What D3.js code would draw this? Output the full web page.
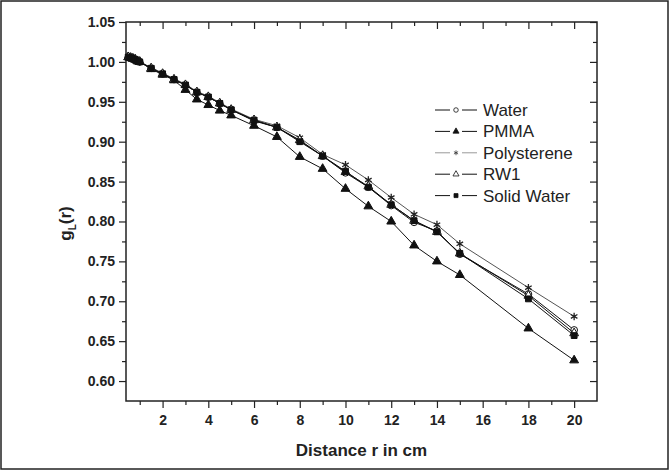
<!DOCTYPE html>
<html lang="en">
<head>
<meta charset="utf-8">
<title>Radial dose function</title>
<style type="text/css">
body {
  margin: 0;
  background: white;
}
text {
  font-family: "Liberation Sans", Arial, sans-serif;
}
.tick text {
  font: bold 14px "Liberation Sans", Arial, sans-serif;
  fill: #222;
}
.tick line {
  stroke: #222;
  stroke-width: 1.2px;
}
.series path.line {
  fill: none;
  stroke-width: 1px;
}
.legend text {
  font-size: 17px;
  fill: #222;
}
</style>
</head>
<body>
<svg width="669" height="470"></svg>
<script src="https://d3js.org/d3.v7.min.js"></script>
<script>
// distance r (cm)
var distances = [0.5, 0.6, 0.7, 0.8, 0.9, 1, 1.5, 2, 2.5, 3, 3.5, 4, 4.5, 5, 6, 7, 8, 9, 10, 11, 12, 13, 14, 15, 18, 20];

var waterVals       = [1.006, 1.005, 1.004, 1.003, 1.001, 1.000, 0.992, 0.985, 0.978, 0.971, 0.962, 0.956, 0.948, 0.940, 0.926, 0.918, 0.901, 0.882, 0.861, 0.843, 0.820, 0.799, 0.788, 0.759, 0.709, 0.664];
var pmmaVals        = [1.006, 1.005, 1.004, 1.003, 1.001, 1.000, 0.991, 0.984, 0.977, 0.965, 0.953, 0.946, 0.939, 0.933, 0.920, 0.906, 0.881, 0.866, 0.841, 0.819, 0.800, 0.770, 0.750, 0.733, 0.666, 0.626];
var polystyreneVals = [1.007, 1.006, 1.005, 1.003, 1.002, 1.000, 0.993, 0.986, 0.979, 0.972, 0.963, 0.957, 0.949, 0.941, 0.928, 0.920, 0.905, 0.884, 0.871, 0.852, 0.830, 0.809, 0.796, 0.772, 0.717, 0.681];
var rw1Vals         = [1.006, 1.005, 1.004, 1.003, 1.001, 1.000, 0.992, 0.985, 0.978, 0.971, 0.962, 0.956, 0.948, 0.940, 0.927, 0.918, 0.902, 0.882, 0.862, 0.844, 0.821, 0.801, 0.787, 0.760, 0.707, 0.660];
var solidWaterVals  = [1.006, 1.005, 1.004, 1.003, 1.001, 1.000, 0.992, 0.985, 0.978, 0.971, 0.962, 0.956, 0.948, 0.940, 0.927, 0.918, 0.900, 0.882, 0.863, 0.843, 0.821, 0.801, 0.787, 0.760, 0.703, 0.657];

var seriesNames = ["Water", "PMMA", "Polysterene", "RW1", "Solid Water"];

var xMajorTicks = [2, 4, 6, 8, 10, 12, 14, 16, 18, 20];
var xMinorTicks = [1, 3, 5, 7, 9, 11, 13, 15, 17, 19];
var yMajorTicks = [0.60, 0.65, 0.70, 0.75, 0.80, 0.85, 0.90, 0.95, 1.00, 1.05];
var yMinorTicks = [0.625, 0.675, 0.725, 0.775, 0.825, 0.875, 0.925, 0.975, 1.025];

var svg = d3.select("svg"),
    plotLeft = 126, plotRight = 597, plotTop = 22, plotBottom = 401;

var x = d3.scaleLinear().domain([0.4, 21]).range([plotLeft, plotRight]),
    y = d3.scaleLinear().domain([0.575, 1.05]).range([plotBottom, plotTop]);

// outer border of the figure
svg.append("rect")
    .attr("x", 1).attr("y", 1).attr("width", 667).attr("height", 468)
    .attr("fill", "white").attr("stroke", "#222").attr("stroke-width", 1.5);

// axes (ticks only, the frame is a rect)
function addAxis(axis, tx, ty) {
  var g = svg.append("g").attr("transform", "translate(" + tx + "," + ty + ")").call(axis);
  g.select(".domain").remove();
  return g;
}

addAxis(d3.axisBottom(x).tickValues(xMajorTicks).tickSize(7).tickPadding(7).tickFormat(d3.format("d")), 0, plotBottom);
addAxis(d3.axisBottom(x).tickValues(xMinorTicks).tickSize(4).tickFormat(""), 0, plotBottom);
addAxis(d3.axisBottom(x).tickValues(xMajorTicks).tickSize(7).tickFormat(""), 0, plotTop);
addAxis(d3.axisBottom(x).tickValues(xMinorTicks).tickSize(4).tickFormat(""), 0, plotTop);

addAxis(d3.axisLeft(y).tickValues(yMajorTicks).tickSize(7).tickPadding(4).tickFormat(d3.format(".2f")), plotLeft, 0);
addAxis(d3.axisLeft(y).tickValues(yMinorTicks).tickSize(4).tickFormat(""), plotLeft, 0);
addAxis(d3.axisLeft(y).tickValues(yMajorTicks).tickSize(7).tickFormat(""), plotRight, 0);
addAxis(d3.axisLeft(y).tickValues(yMinorTicks).tickSize(4).tickFormat(""), plotRight, 0);

svg.append("rect")
    .attr("x", plotLeft).attr("y", plotTop).attr("width", plotRight - plotLeft).attr("height", plotBottom - plotTop)
    .attr("fill", "none").attr("stroke", "#222").attr("stroke-width", 1.5);

// axis titles
svg.append("text")
    .attr("x", (plotLeft + plotRight) / 2).attr("y", 456)
    .attr("text-anchor", "middle")
    .style("font-weight", "bold").style("font-size", "17px").style("fill", "#222")
    .text("Distance r in cm");

var ylab = svg.append("text")
    .attr("transform", "translate(71," + ((plotTop + plotBottom) / 2 + 12) + ") rotate(-90)")
    .attr("text-anchor", "middle")
    .style("font-weight", "bold").style("font-size", "17px").style("fill", "#222");
ylab.append("tspan").text("g");
ylab.append("tspan").attr("dy", 5).style("font-size", "10px").text("L");
ylab.append("tspan").attr("dy", -5).text("(r)");

// series
var series = [
  {name: seriesNames[0], values: waterVals,       color: "#111", legendColor: "#111", symbol: d3.symbolCircle,   fill: "white", size: 36},
  {name: seriesNames[1], values: pmmaVals,        color: "#111", legendColor: "#111", symbol: d3.symbolTriangle, fill: "#111",  size: 34},
  {name: seriesNames[2], values: polystyreneVals, color: "#555", legendColor: "#999", symbol: d3.symbolAsterisk, fill: "none",  size: 40},
  {name: seriesNames[3], values: rw1Vals,         color: "#111", legendColor: "#111", symbol: d3.symbolTriangle, fill: "white", size: 34},
  {name: seriesNames[4], values: solidWaterVals,  color: "#111", legendColor: "#111", symbol: d3.symbolSquare,   fill: "#111",  size: 34}
];

var line = d3.line()
    .x(function(d) { return x(d[0]); })
    .y(function(d) { return y(d[1]); });

var sg = svg.selectAll(".series")
    .data(series)
    .enter().append("g")
    .attr("class", "series");

sg.append("path")
    .attr("class", "line")
    .attr("stroke", function(d) { return d.color; })
    .attr("d", function(d) { return line(d3.zip(distances, d.values)); });

sg.each(function(s) {
  d3.select(this).selectAll("path.pt")
      .data(d3.zip(distances, s.values))
      .enter().append("path")
      .attr("class", "pt")
      .attr("transform", function(d) { return "translate(" + x(d[0]) + "," + y(d[1]) + ")"; })
      .attr("d", d3.symbol().type(s.symbol).size(s.size))
      .attr("fill", s.fill)
      .attr("stroke", s.symbol === d3.symbolAsterisk ? "#222" : "#111")
      .attr("stroke-width", s.symbol === d3.symbolAsterisk ? 1.3 : 1);
});

// legend
var legend = svg.append("g").attr("class", "legend");
var li = legend.selectAll("g")
    .data(series)
    .enter().append("g")
    .attr("transform", function(d, i) { return "translate(0," + (110 + i * 21.4) + ")"; });

li.append("line")
    .attr("x1", 435).attr("x2", 450).attr("y1", 0).attr("y2", 0)
    .attr("stroke", function(d) { return d.legendColor; });
li.append("line")
    .attr("x1", 462).attr("x2", 477).attr("y1", 0).attr("y2", 0)
    .attr("stroke", function(d) { return d.legendColor; });
li.append("path")
    .attr("transform", "translate(456,0)")
    .attr("d", function(d) { return d3.symbol().type(d.symbol).size(16)(); })
    .attr("fill", function(d) { return d.fill; })
    .attr("stroke", function(d) { return d.symbol === d3.symbolAsterisk ? "#333" : "#111"; })
    .attr("stroke-width", 0.8);
li.append("text")
    .attr("x", 483).attr("dy", "0.35em")
    .text(function(d) { return d.name; });
</script>
</body>
</html>
